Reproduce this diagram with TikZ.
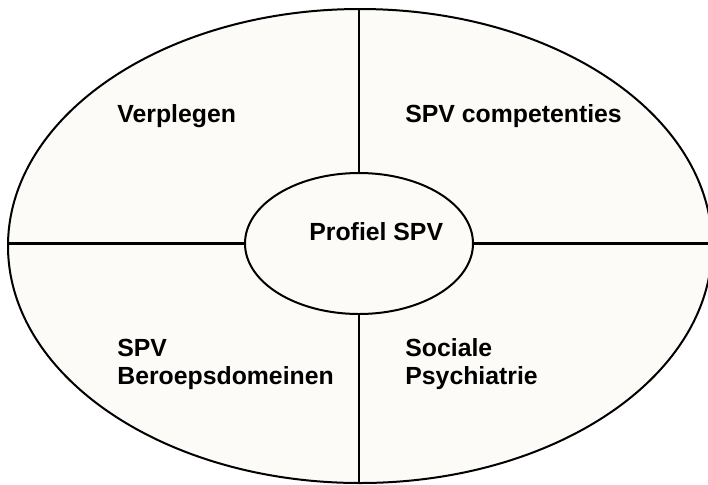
\documentclass[tikz,border=0pt]{standalone}
\usepackage{fontspec}
\setmainfont{Liberation Sans}
\usetikzlibrary{shapes.geometric}
\definecolor{cream}{RGB}{252,251,248}

\begin{document}
\begin{tikzpicture}[x=0.5pt, y=-0.5pt, line width=1.4pt, main/.style = {draw, ellipse, fill=cream, line width=1pt, inner sep=0pt, outer sep=0pt}, txt/.style = {anchor=base west, align=left, inner sep=0pt, font=\bfseries\fontsize{12.4}{13.6}\selectfont}]
\useasboundingbox (0,0) rectangle (708,484);
\node[main, minimum width=352pt, minimum height=237pt] (1) at (360,246) {};
\node[main, minimum width=114pt, minimum height=70.5pt] (2) at (359,243.5) {};
\draw (2.north) -- (2.north |- 1.north);
\draw (2.south) -- (2.south |- 1.south);
\draw (2.west) -- (2.west -| 1.west);
\draw (2.east) -- (2.east -| 1.east);
\node[txt] (3) at (308,240) {Profiel SPV};
\node[txt] (4) at (116,122) {Verplegen};
\node[txt] (5) at (404,122) {SPV competenties};
\node[txt] (6) at (116,384) {SPV\\Beroepsdomeinen};
\node[txt] (7) at (404,384) {Sociale\\Psychiatrie};
\end{tikzpicture}
\end{document}
